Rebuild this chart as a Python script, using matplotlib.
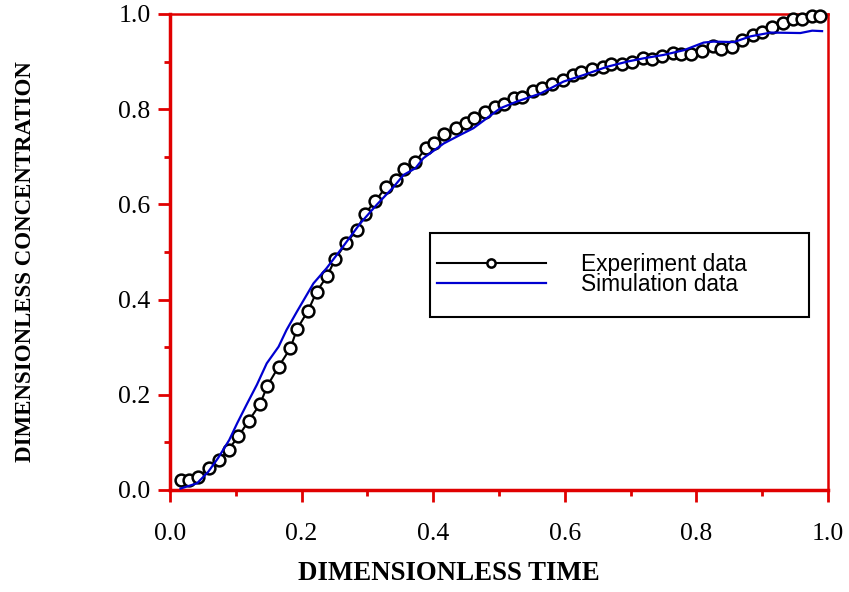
import matplotlib
matplotlib.use("Agg")
import matplotlib.pyplot as plt
from matplotlib.patches import Rectangle
from matplotlib.ticker import MultipleLocator

# experiment data (open circles joined by a black line)
exp_t = [0.016, 0.029, 0.043, 0.059, 0.075, 0.089, 0.104, 0.120, 0.137, 0.148,
         0.165, 0.183, 0.193, 0.210, 0.223, 0.239, 0.251, 0.267, 0.284, 0.296,
         0.312, 0.328, 0.344, 0.356, 0.373, 0.389, 0.401, 0.417, 0.434, 0.450,
         0.462, 0.479, 0.494, 0.508, 0.523, 0.535, 0.552, 0.565, 0.581, 0.597,
         0.613, 0.625, 0.642, 0.658, 0.670, 0.687, 0.702, 0.719, 0.732, 0.748,
         0.765, 0.776, 0.792, 0.809, 0.825, 0.838, 0.854, 0.870, 0.886, 0.900,
         0.915, 0.931, 0.947, 0.960, 0.976, 0.988]
exp_c = [0.022, 0.022, 0.028, 0.046, 0.062, 0.085, 0.113, 0.146, 0.181, 0.219,
         0.259, 0.298, 0.338, 0.377, 0.417, 0.450, 0.485, 0.518, 0.546, 0.580,
         0.607, 0.636, 0.651, 0.674, 0.690, 0.718, 0.730, 0.747, 0.760, 0.770,
         0.782, 0.795, 0.805, 0.810, 0.823, 0.826, 0.839, 0.844, 0.852, 0.861,
         0.872, 0.879, 0.884, 0.889, 0.895, 0.895, 0.900, 0.907, 0.905, 0.912,
         0.919, 0.917, 0.917, 0.922, 0.932, 0.927, 0.931, 0.945, 0.956, 0.963,
         0.973, 0.982, 0.989, 0.989, 0.996, 0.996]

# simulation curve
sim_t = [0.016, 0.041, 0.058, 0.073, 0.090, 0.102, 0.117, 0.132, 0.147, 0.165,
         0.177, 0.193, 0.218, 0.238, 0.259, 0.289, 0.314, 0.340, 0.355, 0.373,
         0.385, 0.416, 0.441, 0.461, 0.502, 0.527, 0.563, 0.598, 0.629, 0.664,
         0.695, 0.720, 0.750, 0.781, 0.811, 0.826, 0.857, 0.882, 0.913, 0.958,
         0.976, 0.991]
sim_c = [0.003, 0.014, 0.038, 0.067, 0.105, 0.140, 0.181, 0.221, 0.266, 0.301,
         0.336, 0.375, 0.434, 0.466, 0.504, 0.560, 0.599, 0.637, 0.662, 0.676,
         0.697, 0.728, 0.746, 0.760, 0.802, 0.816, 0.833, 0.858, 0.872, 0.889,
         0.900, 0.907, 0.914, 0.924, 0.940, 0.942, 0.941, 0.953, 0.961, 0.960,
         0.965, 0.964]

RED = "#e00000"
serif = "Liberation Serif"

fig = plt.figure(figsize=(8.49, 5.92), dpi=100)
ax = fig.add_axes([170 / 849, 1 - 490 / 592, 658 / 849, 476 / 592])

ax.plot(exp_t, exp_c, color="black", lw=1.5, marker="o", ms=8.5, mfc="white",
        mec="black", mew=1.8, label="Experiment data", clip_on=False, zorder=3)
ax.plot(sim_t, sim_c, color="#0000d0", lw=1.6, label="Simulation data",
        clip_on=False, zorder=4)

ax.set_xlim(0, 1)
ax.set_ylim(0, 1)
ax.xaxis.set_major_locator(MultipleLocator(0.2))
ax.xaxis.set_minor_locator(MultipleLocator(0.1))
ax.yaxis.set_major_locator(MultipleLocator(0.2))
ax.yaxis.set_minor_locator(MultipleLocator(0.1))
ax.xaxis.set_major_formatter(lambda v, p: f"{v:.1f}")
ax.yaxis.set_major_formatter(lambda v, p: f"{v:.1f}")

for side, sp in ax.spines.items():
    sp.set_color(RED)
    sp.set_linewidth(2.5 if side in ("left", "bottom") else 1.8)

ax.tick_params(which="both", direction="out", color=RED, width=2)
ax.tick_params(which="major", length=8.5)
ax.tick_params(which="minor", length=4.5)
ax.tick_params(axis="x", which="major", pad=15)
ax.tick_params(axis="y", which="major", pad=5.5)
for lab in ax.get_xticklabels() + ax.get_yticklabels():
    lab.set_fontfamily(serif)
    lab.set_fontsize(18.5)

ax.set_xlabel("DIMENSIONLESS TIME", fontfamily=serif, fontweight="bold",
              fontsize=19.4)
ax.xaxis.set_label_coords(0.424, -0.15)
ax.set_ylabel("DIMENSIONLESS CONCENTRATION", fontfamily=serif,
              fontweight="bold", fontsize=16.5)
ax.yaxis.set_label_coords(-0.204, 0.48)

# legend: handles/text without frame, frame drawn separately
leg = ax.legend(loc="upper left", bbox_to_anchor=(0.395, 0.513), frameon=False,
                prop={"family": "Liberation Sans", "size": 16.4},
                handlelength=4.8, handletextpad=1.55, labelspacing=-0.1,
                borderpad=0.3, borderaxespad=0, numpoints=1, markerscale=0.7)
ax.add_patch(Rectangle((0.395, 0.363), 0.576, 0.177, transform=ax.transAxes,
                       fill=False, ec="black", lw=1.5, zorder=5))

fig.savefig("out.png", dpi=100)
